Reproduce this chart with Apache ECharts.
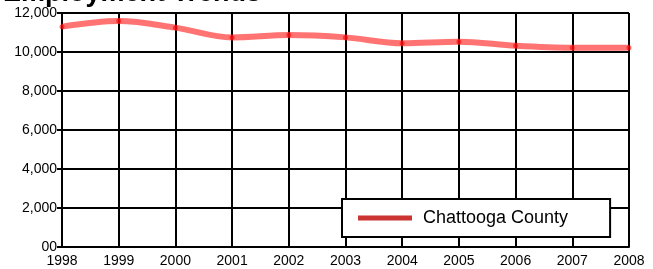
<!DOCTYPE html>
<html>
<head>
<meta charset="utf-8">
<script src="https://cdn.jsdelivr.net/npm/echarts@6/dist/echarts.min.js"></script>
<style>
  html, body { margin: 0; padding: 0; background: #fff; }
  #chart { width: 653px; height: 269px; }
</style>
</head>
<body>
<div id="chart"></div>
<script>
// years along the x axis
const years = ['1998', '1999', '2000', '2001', '2002', '2003', '2004', '2005', '2006', '2007', '2008'];
// employment
const chattooga = [11300, 11590, 11250, 10750, 10870, 10750, 10450, 10530, 10320, 10220, 10220];
const seriesName = 'Chattooga County';
const titleText = 'Employment Trends';

const chart = echarts.init(document.getElementById('chart'));

const option = {
  backgroundColor: '#fff',
  animation: false,
  title: {
    text: titleText,
    left: -2,
    top: -25,
    textStyle: { fontFamily: 'Liberation Sans', fontWeight: 'bold', fontSize: 27, color: '#000' }
  },
  legend: {
    data: [seriesName],
    left: 342,
    top: 199,
    orient: 'horizontal',
    backgroundColor: '#fff',
    borderColor: '#000',
    borderWidth: 2,
    borderRadius: 0,
    padding: [10, 42, 10, 16],
    icon: 'rect',
    itemWidth: 54,
    itemHeight: 5,
    itemStyle: { color: '#cc3333', borderWidth: 0 },
    textStyle: { fontFamily: 'Liberation Sans', fontSize: 18, color: '#000', padding: [0, 0, 0, 6] }
  },
  grid: { left: 62, right: 24, top: 13, bottom: 22 },
  xAxis: {
    type: 'category',
    data: years,
    boundaryGap: false,
    axisLine: { lineStyle: { color: '#000', width: 2 } },
    axisTick: { show: false },
    splitLine: { show: true, lineStyle: { color: '#000', width: 2 } },
    axisLabel: { fontFamily: 'Liberation Sans', fontSize: 14, color: '#000', margin: 7 }
  },
  yAxis: {
    type: 'value',
    min: 0,
    max: 12000,
    interval: 2000,
    axisLine: { show: true, lineStyle: { color: '#000', width: 2 } },
    axisTick: { show: true, length: 5, lineStyle: { color: '#000', width: 2 } },
    splitLine: { show: true, lineStyle: { color: '#000', width: 2 } },
    axisLabel: {
      fontFamily: 'Liberation Sans', fontSize: 14, color: '#000', margin: 5,
      formatter: v => v === 0 ? '00' : v.toLocaleString('en-US')
    }
  },
  series: [{
    name: seriesName,
    type: 'line',
    data: chattooga,
    smooth: 0.35,
    symbol: 'circle',
    symbolSize: 5,
    itemStyle: { color: 'rgba(255,0,0,0.6)' },
    lineStyle: { color: 'rgba(255,40,40,0.65)', width: 6 }
  }]
};

chart.setOption(option);
</script>
</body>
</html>
